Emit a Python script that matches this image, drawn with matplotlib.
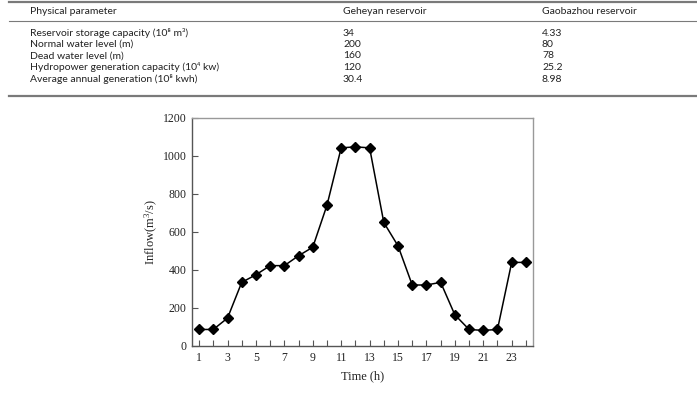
import matplotlib
matplotlib.use("Agg")
import matplotlib.pyplot as plt
from matplotlib.lines import Line2D

plt.rcParams['mathtext.default'] = 'regular'

# table data
params = ['Reservoir storage capacity (10\u2078 m\u00b3)',
          'Normal water level (m)',
          'Dead water level (m)',
          'Hydropower generation capacity (10\u2074 kw)',
          'Average annual generation (10\u2078 kwh)']
geheyan = ['34', '200', '160', '120', '30.4']
gaobazhou = ['4.33', '80', '78', '25.2', '8.98']
headers = ['Physical parameter', 'Geheyan reservoir', 'Gaobazhou reservoir']

# inflow series
hours = list(range(1, 25))
inflow = [87, 87, 147, 335, 375, 423, 423, 475, 520, 741, 1043, 1048,
          1043, 650, 527, 321, 321, 335, 164, 87, 82, 87, 440, 440]

W, H = 697, 396
fig = plt.figure(figsize=(W / 100, H / 100), dpi=100)

def fy(py):
    return 1 - py / H

def fx(px):
    return px / W

# table rules
for py, lw in [(2, 1.6), (21, 0.8), (96, 1.6)]:
    fig.add_artist(Line2D([fx(9), fx(697)], [fy(py), fy(py)], color='#7a7a7a',
                          lw=lw, transform=fig.transFigure))

col_x = [30, 343, 542]
tfont = dict(family=['Lato', 'DejaVu Sans'], size=7.5, color='#222222', va='center')
for x, h in zip(col_x, headers):
    fig.text(fx(x), fy(12), h, **tfont)
row_y = [33, 44.5, 56, 67.5, 79]
for y, p, a, b in zip(row_y, params, geheyan, gaobazhou):
    fig.text(fx(col_x[0]), fy(y), p, **tfont)
    fig.text(fx(col_x[1]), fy(y), a, **tfont)
    fig.text(fx(col_x[2]), fy(y), b, **tfont)

# chart
ax = fig.add_axes([192 / W, 1 - 346 / H, (533 - 192) / W, (346 - 118) / H])
ax.plot(hours, inflow, color='black', lw=1.1, marker='D', markersize=5.5)
ax.set_xlim(0.5, 24.5)
ax.set_ylim(0, 1200)
ax.set_xticks(hours)
ax.set_xticklabels([str(h) if h % 2 == 1 else '' for h in hours])
ax.set_yticks(range(0, 1201, 200))
ax.tick_params(direction='in', length=4, width=0.8, colors='#555555',
               labelcolor='#222222', labelsize=8.5, top=False, right=False, pad=4)
for lab in ax.get_xticklabels() + ax.get_yticklabels():
    lab.set_family('Liberation Serif')
for s in ['left', 'bottom']:
    ax.spines[s].set_color('#555555')
    ax.spines[s].set_linewidth(1.0)
for s in ['top', 'right']:
    ax.spines[s].set_color('#999999')
    ax.spines[s].set_linewidth(1.0)
ax.set_xlabel('Time (h)', family='Liberation Serif', fontsize=9, color='#222222', labelpad=5)
ax.set_ylabel('Inflow(m$^3$/s)', family='Liberation Serif', fontsize=9, color='#222222', labelpad=2)

fig.savefig('out.png', dpi=100)
